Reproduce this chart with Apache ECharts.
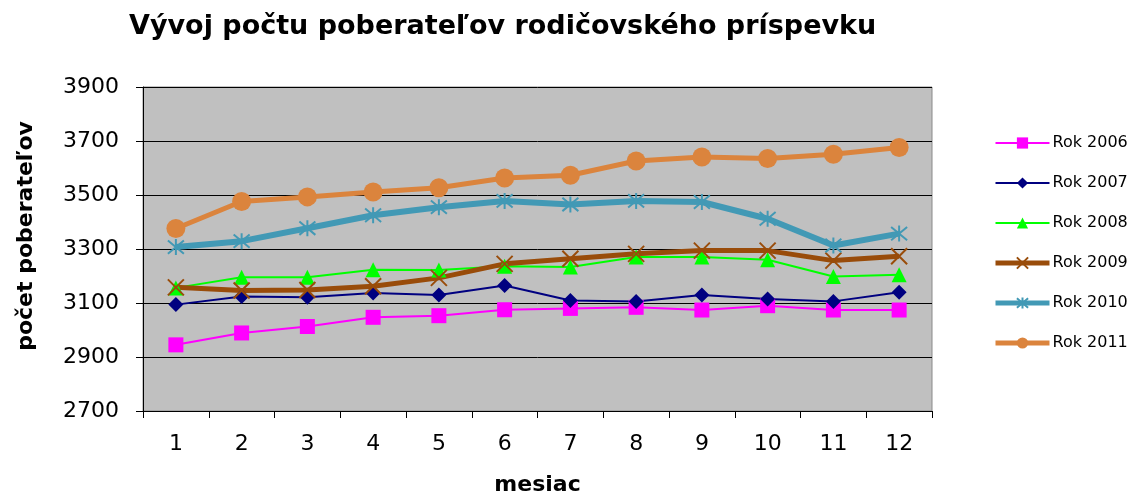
<!DOCTYPE html>
<html>
<head>
<meta charset="utf-8">
<script src="https://cdn.jsdelivr.net/npm/echarts@6/dist/echarts.min.js"></script>
<style>
  html, body { margin: 0; padding: 0; background: #fff; }
  #chart { width: 1134px; height: 497px; }
</style>
</head>
<body>
<div id="chart"></div>
<script>
// mesiace
const months = ['1', '2', '3', '4', '5', '6', '7', '8', '9', '10', '11', '12']

// počty poberateľov podľa rokov (odčítané z grafu)
const rok2006 = [2945, 2989, 3013, 3047, 3053, 3075, 3080, 3084, 3074, 3090, 3074, 3074]
const rok2007 = [3094, 3124, 3121, 3137, 3130, 3165, 3109, 3106, 3130, 3115, 3106, 3140]
const rok2008 = [3156, 3195, 3195, 3223, 3222, 3236, 3233, 3270, 3270, 3260, 3198, 3205]
const rok2009 = [3158, 3146, 3148, 3162, 3193, 3245, 3264, 3282, 3294, 3294, 3257, 3273]
const rok2010 = [3307, 3329, 3377, 3425, 3455, 3478, 3465, 3478, 3474, 3412, 3313, 3357]
const rok2011 = [3376, 3476, 3493, 3511, 3527, 3563, 3573, 3626, 3641, 3635, 3651, 3676]

const yTicks = { min: 2700, max: 3900, step: 200 }

const crossPath = 'path://M0,0L10,10M10,0L0,10'
const starPath = 'path://M0,0L10,10M10,0L0,10M5,-1L5,11'

let makeSeries = (name, data, color, width, symbol, size, stroke) => {
  return {
    name: name,
    type: 'line',
    data: data,
    symbol: symbol,
    symbolSize: size,
    showSymbol: true,
    lineStyle: { color: color, width: width },
    itemStyle: stroke
      ? { color: 'rgba(0,0,0,0)', borderColor: color, borderWidth: 2 }
      : { color: color },
    emphasis: { disabled: true },
    z: 2
  }
}

const font = 'DejaVu Sans, sans-serif'
const chart = echarts.init(document.getElementById('chart'))
chart.setOption({
  animation: false,
  backgroundColor: '#fff',
  textStyle: { fontFamily: font },
  title: {
    text: 'Vývoj počtu poberateľov rodičovského príspevku',
    left: 124,
    top: 8,
    textStyle: { fontSize: 27, fontWeight: 'bold', color: '#000', fontFamily: font }
  },
  grid: {
    left: 143,
    right: 202,
    top: 87,
    bottom: 86,
    outerBoundsMode: 'none',
    show: true,
    backgroundColor: '#C0C0C0',
    borderColor: '#8a8a8a',
    borderWidth: 1
  },
  legend: {
    orient: 'vertical',
    left: 993,
    top: 135,
    padding: 0,
    itemWidth: 54,
    itemHeight: 14,
    itemGap: 24,
    textStyle: { fontSize: 16, color: '#000', padding: [0, 0, 0, -2], fontFamily: font },
    data: [
      { name: 'Rok 2006', lineStyle: { width: 2 } },
      { name: 'Rok 2007', lineStyle: { width: 2 } },
      { name: 'Rok 2008', lineStyle: { width: 2 } },
      { name: 'Rok 2009', lineStyle: { width: 5 } },
      { name: 'Rok 2010', lineStyle: { width: 5 } },
      { name: 'Rok 2011', lineStyle: { width: 5 } }
    ]
  },
  xAxis: {
    type: 'category',
    data: months,
    boundaryGap: true,
    name: 'mesiac',
    nameLocation: 'middle',
    nameGap: 63,
    nameTextStyle: { fontSize: 22, fontWeight: 'bold', color: '#000', fontFamily: font },
    axisLine: { lineStyle: { color: '#000', width: 1 } },
    axisTick: { show: true, length: 7, lineStyle: { color: '#000' } },
    axisLabel: { fontSize: 22, color: '#000', margin: 22, fontFamily: font },
    splitLine: { show: false }
  },
  yAxis: {
    type: 'value',
    min: yTicks.min,
    max: yTicks.max,
    interval: yTicks.step,
    name: 'počet poberateľov',
    nameLocation: 'middle',
    nameGap: 106,
    nameTextStyle: {
      fontSize: 22,
      fontWeight: 'bold',
      color: '#000',
      fontFamily: font,
      padding: [0, 0, 0, 26]
    },
    axisLine: { show: true, lineStyle: { color: '#000', width: 1 } },
    axisTick: { show: true, length: 7, lineStyle: { color: '#000' } },
    axisLabel: {
      fontSize: 22,
      color: '#000',
      margin: 24,
      fontFamily: font,
      formatter: value => String(value)
    },
    splitLine: { show: true, lineStyle: { color: '#000', width: 1 } }
  },
  series: [
    makeSeries('Rok 2006', rok2006, '#FF00FF', 2, 'rect', 15, false),
    makeSeries('Rok 2007', rok2007, '#000080', 2, 'diamond', 15, false),
    makeSeries('Rok 2008', rok2008, '#00FF00', 2, 'triangle', 15, false),
    makeSeries('Rok 2009', rok2009, '#994C0A', 5, crossPath, 16, true),
    makeSeries('Rok 2010', rok2010, '#4299B5', 6, starPath, 16, true),
    makeSeries('Rok 2011', rok2011, '#DB843D', 5, 'circle', 19, false)
  ]
})
</script>
</body>
</html>
